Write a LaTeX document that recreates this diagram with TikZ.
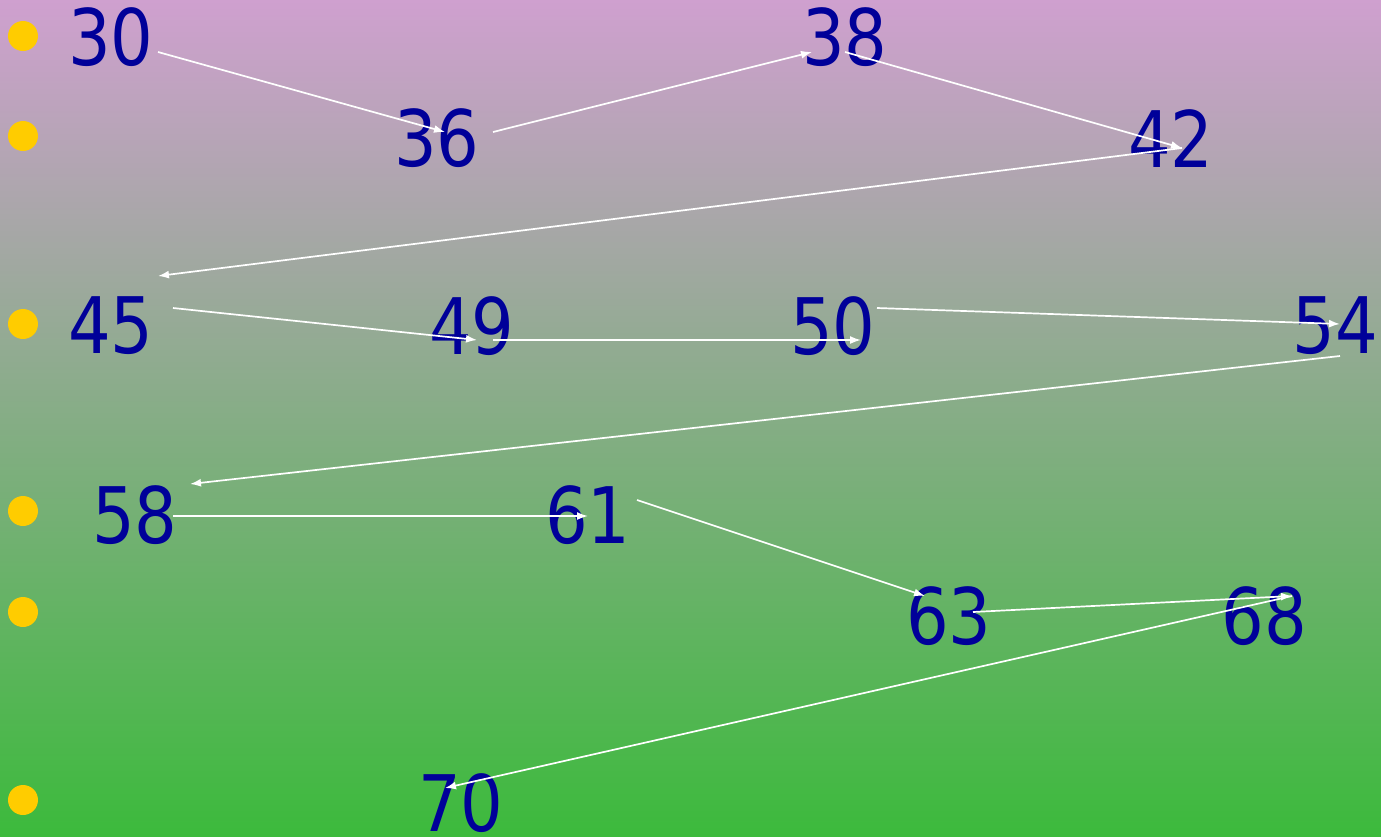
\documentclass[tikz,border=0pt]{standalone}
\usepackage{fontspec}
\setmainfont{DejaVu Sans}[FakeStretch=0.86]
\usetikzlibrary{arrows.meta}
\definecolor{bgtop}{RGB}{207,160,207}
\definecolor{bgbot}{RGB}{60,186,60}
\definecolor{numblue}{RGB}{0,0,153}
\definecolor{bulletc}{RGB}{255,204,0}
\begin{document}
\begin{tikzpicture}[x=1pt,y=-1pt,
  num/.style={text=numblue, inner sep=0pt, font=\fontsize{78}{80}\selectfont},
  dot/.style={circle, fill=bulletc, minimum size=30pt, inner sep=0pt},
  link/.style={draw=white, line width=1.7pt, -{Latex[length=11pt,width=8pt]}}]
\useasboundingbox (0,0) rectangle (1381,836);
\shade[top color=bgtop, bottom color=bgbot] (0,0) rectangle (1381,836);
% bullets
\node[dot] (b1) at (23,36) {};
\node[dot] (b2) at (23,136) {};
\node[dot] (b3) at (23,324) {};
\node[dot] (b4) at (23,511) {};
\node[dot] (b5) at (23,612) {};
\node[dot] (b6) at (23,800) {};
% numbers
\node[num] (n30) at (111,37.5) {30};
\node[num] (n36) at (437,138.5) {36};
\node[num] (n38) at (845,37.5) {38};
\node[num] (n42) at (1171,138.5) {42};
\node[num] (n45) at (111,326) {45};
\node[num] (n49) at (472,326) {49};
\node[num] (n50) at (833,326) {50};
\node[num] (n54) at (1335,326) {54};
\node[num] (n58) at (135,515) {58};
\node[num] (n61) at (588,515) {61};
\node[num] (n63) at (949,616) {63};
\node[num] (n68) at (1264,616) {68};
\node[num] (n70) at (461,803) {70};
% connector end points
\coordinate (s1) at (158,52);   \coordinate (e1) at (445,132);
\coordinate (s2) at (493,132);  \coordinate (e2) at (812,52);
\coordinate (s3) at (845,52);   \coordinate (e3) at (1182,148);
\coordinate (s4) at (1182,148); \coordinate (e4) at (158,276);
\coordinate (s5) at (173,308);  \coordinate (e5) at (477,340);
\coordinate (s6) at (493,340);  \coordinate (e6) at (861,340);
\coordinate (s7) at (877,308);  \coordinate (e7) at (1340,324);
\coordinate (s8) at (1340,356); \coordinate (e8) at (190,484);
\coordinate (s9) at (173,516);  \coordinate (e9) at (588,516);
\coordinate (s10) at (637,500); \coordinate (e10) at (925,596);
\coordinate (s11) at (973,612); \coordinate (e11) at (1292,596);
\coordinate (s12) at (1292,596);\coordinate (e12) at (445,788);
\foreach \i in {1,...,12} {\draw[link] (s\i) -- (e\i);}
\end{tikzpicture}
\end{document}
